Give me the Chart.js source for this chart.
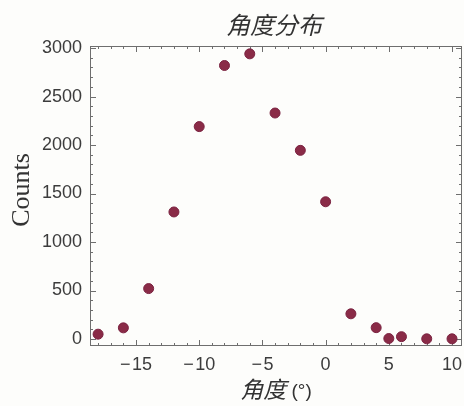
<!DOCTYPE html>
<html>
<head>
<meta charset="utf-8">
<script src="https://cdn.jsdelivr.net/npm/chart.js@4/dist/chart.umd.min.js"></script>
<style>
  html, body { margin: 0; padding: 0; background: #fdfdfb; }
  #wrap { width: 464px; height: 406px; position: relative; }
</style>
</head>
<body>
<div id="wrap"><canvas id="c" width="464" height="406"></canvas></div>
<script>
// Angle bins (degrees) and counts per bin
const angles = [-18, -16, -14, -12, -10, -8, -6, -4, -2, 0, 2, 4, 5, 6, 8, 10];
const counts = [50, 115, 520, 1310, 2190, 2820, 2940, 2330, 1945, 1415, 260, 117, 5, 24, 2, 2];

// Labelled ticks
const xTicks = [-15, -10, -5, 0, 5, 10];
const yTicks = [0, 500, 1000, 1500, 2000, 2500, 3000];

const titleText = '角度分布';
const xTitleMain = '角度';
const xTitleUnit = '(°)';
const yTitleText = 'Counts';

const points = angles.map((a, i) => ({ x: a, y: counts[i] }));

const FRAME = '#6e6e6e';
const LABEL = '#3c3c3c';

// Frame with inward major/minor ticks on all four sides, plus titles
const framePlugin = {
  id: 'frame',
  beforeDatasetsDraw(chart) {
    const { ctx, chartArea: a, scales } = chart;
    const xs = scales.x, ys = scales.y;
    ctx.save();
    ctx.strokeStyle = FRAME;
    ctx.lineWidth = 1;
    ctx.strokeRect(Math.round(a.left) + 0.5, Math.round(a.top) + 0.5,
                   Math.round(a.right - a.left) - 1, Math.round(a.bottom - a.top) - 1);
    ctx.beginPath();
    for (let v = Math.ceil(xs.min); v <= xs.max; v++) {
      const len = (v % 5 === 0) ? 6 : 3;
      const px = Math.round(xs.getPixelForValue(v)) + 0.5;
      ctx.moveTo(px, a.bottom); ctx.lineTo(px, a.bottom - len);
      ctx.moveTo(px, a.top); ctx.lineTo(px, a.top + len);
    }
    for (let v = Math.ceil(ys.min / 100) * 100; v <= ys.max; v += 100) {
      const len = (v % 500 === 0) ? 6 : 3;
      const py = Math.round(ys.getPixelForValue(v)) + 0.5;
      ctx.moveTo(a.left, py); ctx.lineTo(a.left + len, py);
      ctx.moveTo(a.right, py); ctx.lineTo(a.right - len, py);
    }
    ctx.stroke();
    ctx.restore();
  },
  afterDraw(chart) {
    const { ctx, chartArea: a } = chart;
    const cx = (a.left + a.right) / 2;
    ctx.save();
    ctx.fillStyle = '#333';
    // Chart title
    ctx.font = 'italic 24px "Noto Sans CJK SC"';
    ctx.textAlign = 'center';
    ctx.textBaseline = 'middle';
    ctx.fillText(titleText, cx - 2, 25);
    // X axis title: italic Chinese + upright unit
    const f1 = 'italic 23px "Noto Sans CJK SC"';
    const f2 = '19px "Liberation Sans"';
    ctx.font = f1; const w1 = ctx.measureText(xTitleMain).width;
    ctx.font = f2; const w2 = ctx.measureText(' ' + xTitleUnit).width;
    let x0 = cx - (w1 + w2) / 2;
    ctx.textAlign = 'left';
    ctx.textBaseline = 'alphabetic';
    ctx.font = f1; ctx.fillText(xTitleMain, x0, 398);
    ctx.font = f2; ctx.fillText(' ' + xTitleUnit, x0 + w1, 397);
    // Y axis title
    ctx.translate(29, (a.top + a.bottom) / 2 - 6);
    ctx.rotate(-Math.PI / 2);
    ctx.font = '26px "Liberation Serif"';
    ctx.textAlign = 'center';
    ctx.fillText(yTitleText, 0, 0);
    ctx.restore();
  }
};

const fmt = v => (v < 0 ? '\u2212\u200A' + Math.abs(v) : String(v));

new Chart(document.getElementById('c'), {
  type: 'scatter',
  data: {
    datasets: [{
      data: points,
      backgroundColor: '#8a2b47',
      borderColor: '#7a2240',
      borderWidth: 1,
      pointRadius: 5,
      pointHoverRadius: 5
    }]
  },
  options: {
    responsive: false,
    animation: false,
    events: [],
    layout: { autoPadding: false, padding: { top: 46, right: 2, left: 0, bottom: 0 } },
    plugins: { legend: { display: false }, tooltip: { enabled: false }, title: { display: false } },
    scales: {
      x: {
        type: 'linear',
        min: -18.64,
        max: 10.79,
        afterBuildTicks: s => { s.ticks = xTicks.map(v => ({ value: v })); },
        afterFit: s => { s.height = 60; s.paddingLeft = 0; s.paddingRight = 0; },
        grid: { display: false, drawTicks: false },
        border: { display: false },
        ticks: {
          padding: 8,
          color: LABEL,
          font: { family: 'Liberation Sans', size: 18 },
          maxRotation: 0,
          autoSkip: false,
          callback: v => fmt(v)
        }
      },
      y: {
        type: 'linear',
        min: -72,
        max: 3021,
        afterBuildTicks: s => { s.ticks = yTicks.map(v => ({ value: v })); },
        afterFit: s => { s.width = 90; s.paddingTop = 0; s.paddingBottom = 0; },
        grid: { display: false, drawTicks: false },
        border: { display: false },
        ticks: {
          padding: 8,
          color: LABEL,
          font: { family: 'Liberation Sans', size: 18 },
          autoSkip: false,
          callback: v => String(v)
        }
      }
    }
  },
  plugins: [framePlugin]
});
</script>
</body>
</html>
